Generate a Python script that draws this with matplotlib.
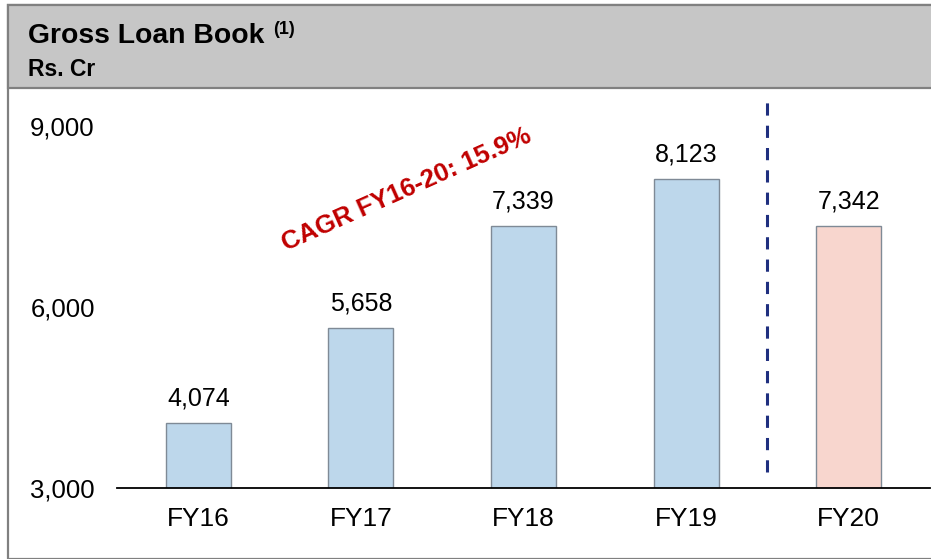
import matplotlib.pyplot as plt
from matplotlib.patches import Rectangle
from matplotlib.ticker import FuncFormatter

plt.rcParams["font.family"] = ["Liberation Sans", "DejaVu Sans"]

years = ["FY16", "FY17", "FY18", "FY19", "FY20"]
loan_book = [4074, 5658, 7339, 8123, 7342]
bar_colors = ["#BDD7EB", "#BDD7EB", "#BDD7EB", "#BDD7EB", "#F8D6CE"]
y_ticks = [3000, 6000, 9000]
cagr_note = "CAGR FY16-20: 15.9%"

W, H = 931, 559
fig = plt.figure(figsize=(W / 100, H / 100), dpi=100)


def fx(px):
    return px / W


def fy(py):
    return 1 - py / H


# outer frame and grey header band (drawn under the axes)
border = "#808080"
fig.patches.append(Rectangle((fx(8), 0), 1.0, fy(5), transform=fig.transFigure,
                             facecolor="white", edgecolor=border, lw=1.6, zorder=-2))
fig.patches.append(Rectangle((fx(8), fy(88)), 1.0, fy(5) - fy(88), transform=fig.transFigure,
                             facecolor="#C6C6C6", edgecolor=border, lw=1.6, zorder=-1))

fig.text(fx(28), fy(43), "Gross Loan Book", fontsize=20.4, fontweight="bold", va="baseline")
fig.text(fx(273), fy(34), "(1)", fontsize=13, fontweight="bold", va="baseline")
fig.text(fx(28), fy(76), "Rs. Cr", fontsize=16.5, fontweight="bold", va="baseline")

ax = fig.add_axes([fx(117), fy(488), fx(930) - fx(117), fy(90) - fy(488)], zorder=1)
ax.patch.set_alpha(0)
x = range(len(years))
bars = ax.bar(x, loan_book, width=0.4, bottom=0, color=bar_colors,
              edgecolor="#7F8A96", linewidth=1.0, zorder=2)
ax.set_xlim(-0.5, len(years) - 0.5)
ax.set_ylim(3000, 3000 + (488 - 90) / 181 * 3000)

for bar, value in zip(bars, loan_book):
    ax.annotate(f"{value:,}", (bar.get_x() + bar.get_width() / 2, value),
                xytext=(0, 9), textcoords="offset points", ha="center", va="bottom", fontsize=18)

ax.set_xticks(list(x), years)
ax.set_yticks(y_ticks)
ax.yaxis.set_major_formatter(FuncFormatter(lambda v, _: f"{v:,.0f}"))
ax.tick_params(axis="both", length=0)
ax.tick_params(axis="y", pad=16, labelsize=18.5)
ax.tick_params(axis="x", pad=14, labelsize=19)
for side in ["top", "right", "left"]:
    ax.spines[side].set_visible(False)
ax.spines["bottom"].set_linewidth(1.3)
ax.spines["bottom"].set_zorder(3)

# FY19 / FY20 separator
ax.axvline(3.5, ymin=0.04, ymax=0.982, color="#1F2F7F", lw=2.2, dashes=(4, 3.3))

ax.text(1.28, 7950, cagr_note, color="#C00000", fontsize=18.5, fontweight="bold",
        rotation=24, rotation_mode="anchor", ha="center", va="center")

fig.savefig("out.png", dpi=100)
